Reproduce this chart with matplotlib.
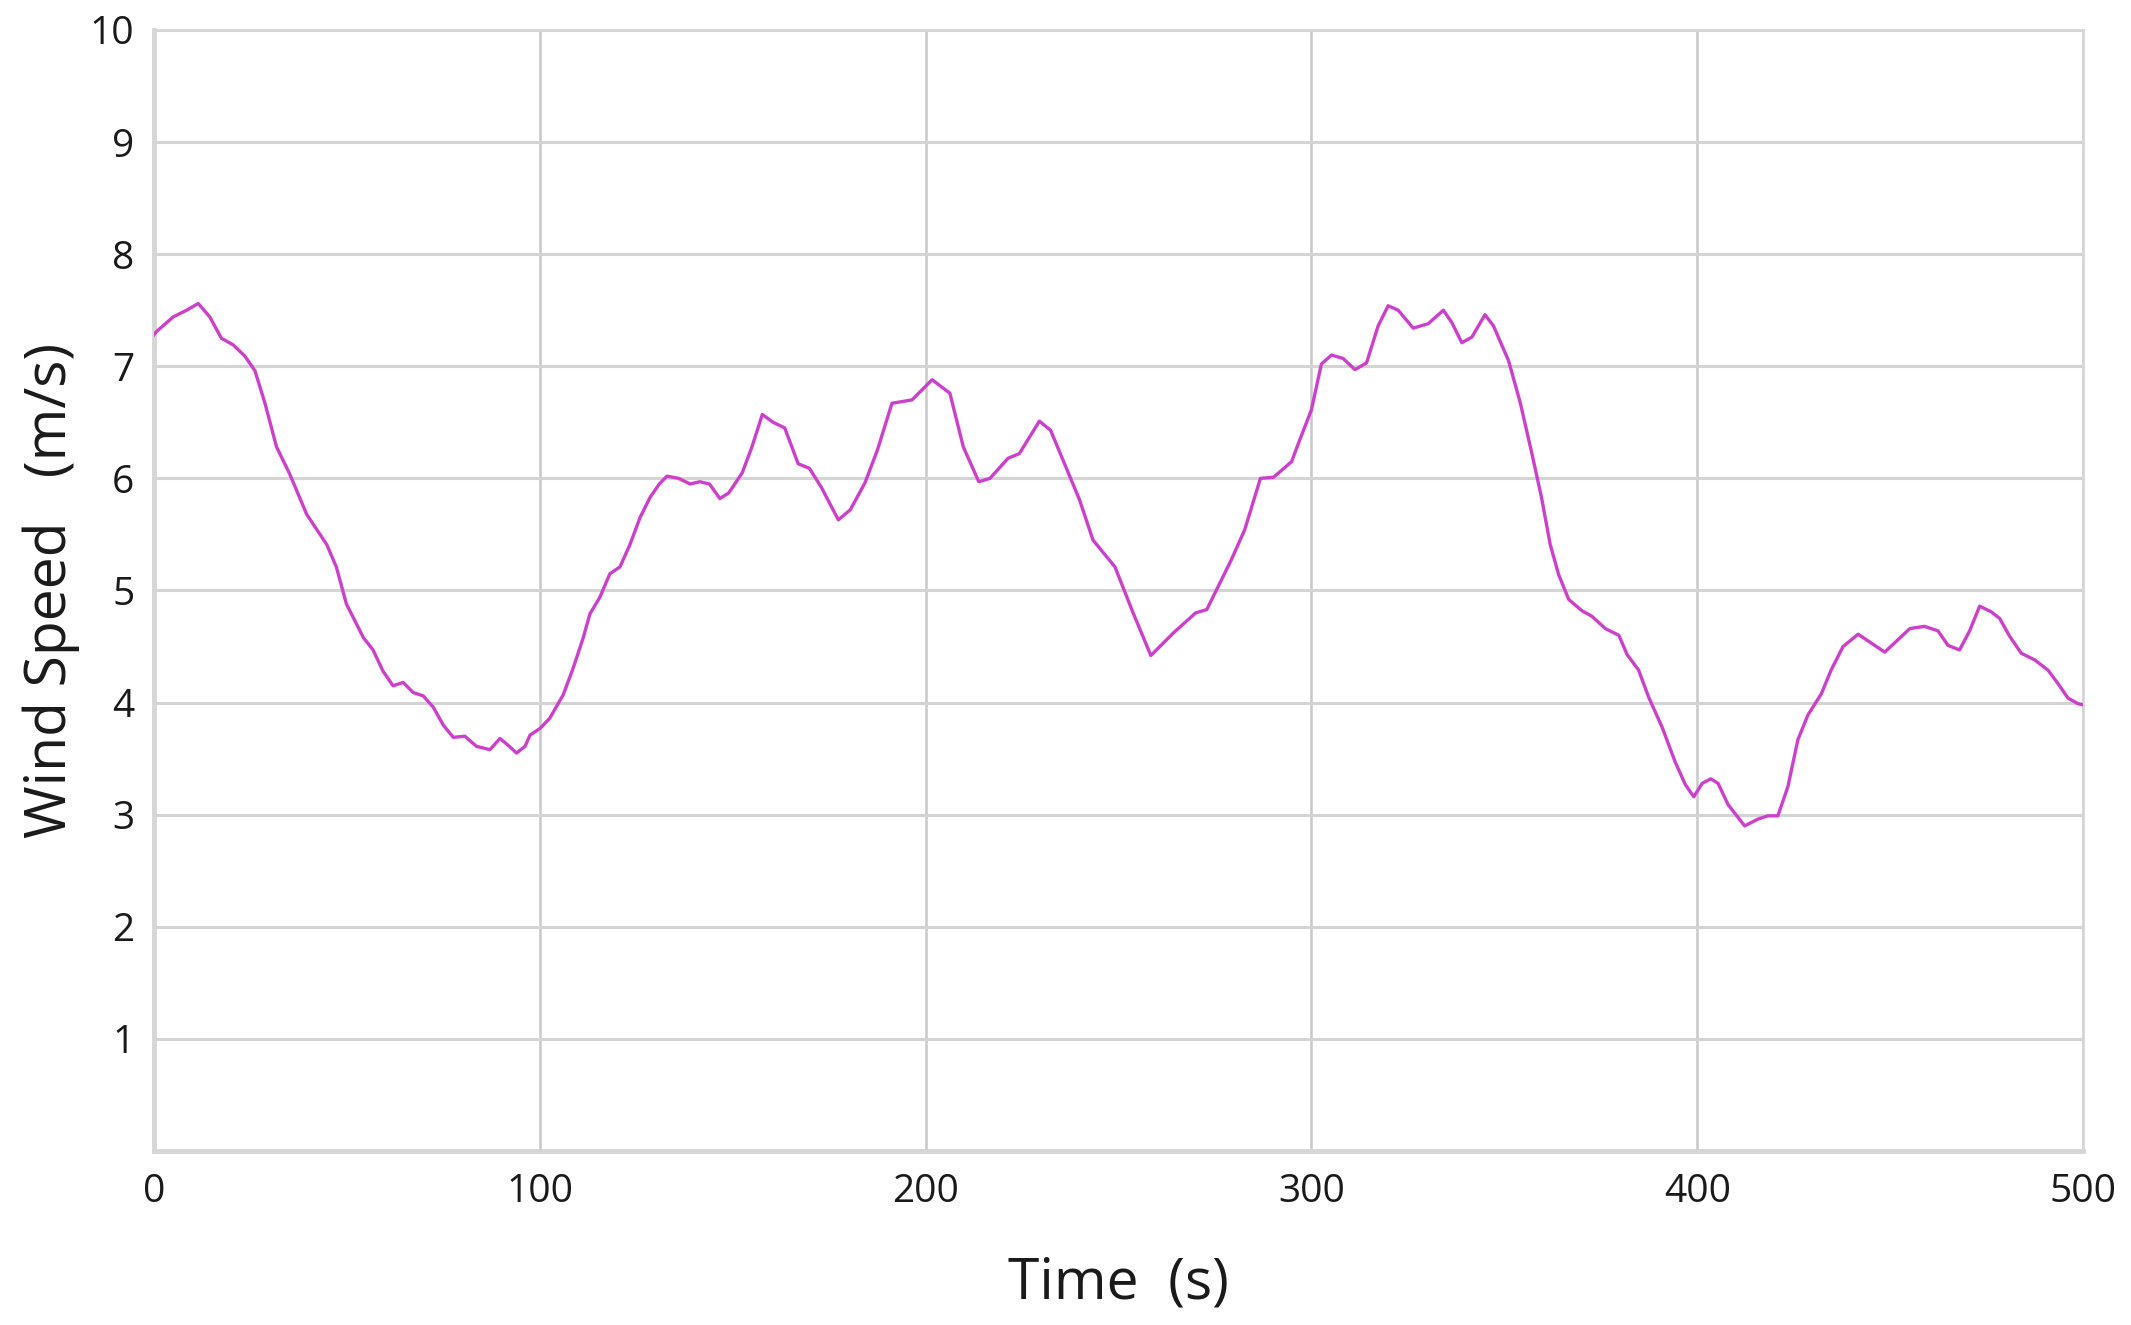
import numpy as np
import matplotlib.pyplot as plt

plt.rcParams['font.family'] = ['Open Sans', 'DejaVu Sans']

# wind speed trace: time (s), speed (m/s)
time_s = [0, 0.7, 5, 8.5, 11.5, 14.5, 17.5, 20.6, 23.6, 26.2, 28.8, 31.8, 35.2, 39.6,
          44.8, 47.3, 49.9, 54.3, 56.8, 59.4, 62, 64.6, 67.2, 69.8, 72.4, 75, 77.6,
          80.6, 83.6, 87.1, 89.7, 91.8, 94, 96.2, 97.5, 100.1, 102.6, 106.1, 108.7,
          111.3, 113, 115.6, 118.2, 120.8, 123.4, 126, 128.6, 131, 133, 136, 139,
          141.5, 144, 146.7, 149, 152.5, 155, 157.7, 160.5, 163.5, 167, 169.9, 173,
          177.4, 180.5, 184.3, 187.5, 191.3, 196.5, 201.7, 206.3, 209.8, 213.8,
          216.7, 221.4, 224.3, 229.5, 232.4, 236.4, 239.9, 243.4, 249.1, 253.8,
          258.4, 264.2, 270, 272.9, 279.2, 282.7, 286.8, 290.2, 294.9, 296.5, 300,
          302.6, 305.2, 308.2, 311.3, 314.3, 317.3, 319.9, 322.5, 326.4, 330.3,
          334.2, 336.4, 339, 341.6, 345, 347.2, 351.1, 354.1, 357.1, 359.7, 361.9,
          364.1, 366.7, 370.1, 372.7, 376.2, 379.7, 381.8, 384.8, 387.4, 390.9,
          394.3, 396.9, 399.1, 401.3, 403.5, 405.4, 408, 412.3, 415.7, 418.3, 420.9,
          423.5, 426.1, 428.7, 432.2, 434.7, 437.8, 441.7, 444.7, 448.6, 452, 455.1,
          458.9, 462.4, 465, 468, 470.6, 473.2, 476.2, 478.4, 481, 484, 487.5, 490.9,
          493.5, 496.1, 498.7, 500]
wind_speed = [7.28, 7.31, 7.44, 7.50, 7.56, 7.44, 7.25, 7.19, 7.09, 6.96, 6.67, 6.28,
              6.04, 5.68, 5.41, 5.21, 4.88, 4.58, 4.47, 4.28, 4.15, 4.18, 4.09, 4.06,
              3.96, 3.80, 3.69, 3.70, 3.61, 3.58, 3.68, 3.62, 3.55, 3.61, 3.71, 3.77,
              3.86, 4.07, 4.31, 4.58, 4.79, 4.94, 5.15, 5.21, 5.41, 5.65, 5.83, 5.95,
              6.02, 6.00, 5.95, 5.97, 5.95, 5.82, 5.87, 6.05, 6.28, 6.57, 6.50, 6.45,
              6.13, 6.09, 5.92, 5.63, 5.72, 5.96, 6.25, 6.67, 6.70, 6.88, 6.76, 6.28,
              5.97, 6.00, 6.18, 6.22, 6.51, 6.43, 6.10, 5.81, 5.45, 5.21, 4.80, 4.42,
              4.62, 4.80, 4.83, 5.27, 5.54, 6.00, 6.01, 6.15, 6.30, 6.61, 7.02, 7.10,
              7.07, 6.97, 7.03, 7.36, 7.54, 7.50, 7.34, 7.38, 7.50, 7.39, 7.21, 7.26,
              7.46, 7.36, 7.05, 6.68, 6.23, 5.82, 5.41, 5.14, 4.92, 4.82, 4.77, 4.66,
              4.60, 4.43, 4.29, 4.05, 3.78, 3.47, 3.27, 3.16, 3.28, 3.32, 3.28, 3.09,
              2.90, 2.96, 2.99, 2.99, 3.25, 3.67, 3.89, 4.08, 4.29, 4.50, 4.61, 4.54,
              4.45, 4.56, 4.66, 4.68, 4.64, 4.51, 4.47, 4.64, 4.86, 4.81, 4.75, 4.59,
              4.44, 4.38, 4.29, 4.17, 4.04, 3.99, 3.98]

x_ticks = [0, 100, 200, 300, 400, 500]
y_ticks = [1, 2, 3, 4, 5, 6, 7, 8, 9, 10]

fig = plt.figure(figsize=(21.31, 13.25), dpi=100)
ax = fig.add_axes([0.0722, 0.1313, 0.9053, 0.8461])

ax.plot(time_s, wind_speed, color='#cc40cc', linewidth=2.4, zorder=3)

ax.set_xlim(0, 500)
ax.set_ylim(0, 10)
ax.set_xticks(x_ticks)
ax.set_yticks(y_ticks)
ax.tick_params(axis='both', labelsize=28, colors='#1a1a1a', length=0)
ax.tick_params(axis='x', pad=16)
ax.tick_params(axis='y', pad=14)

ax.grid(axis='y', color='#d4d4d4', linewidth=2.2)
ax.grid(axis='x', color='#c8c8c8', linewidth=1.8)
ax.set_axisbelow(True)

for side in ['left', 'bottom']:
    ax.spines[side].set_color('#d6d6d6')
    ax.spines[side].set_linewidth(3.5)
for side in ['top', 'right']:
    ax.spines[side].set_color('#d6d6d6')
    ax.spines[side].set_linewidth(2.0)

ax.set_xlabel('Time  (s)', fontsize=41, color='#1a1a1a', labelpad=32)
ax.set_ylabel('Wind Speed   (m/s)', fontsize=41, color='#1a1a1a', labelpad=7)

fig.savefig('out.png', dpi=100, facecolor='white')
